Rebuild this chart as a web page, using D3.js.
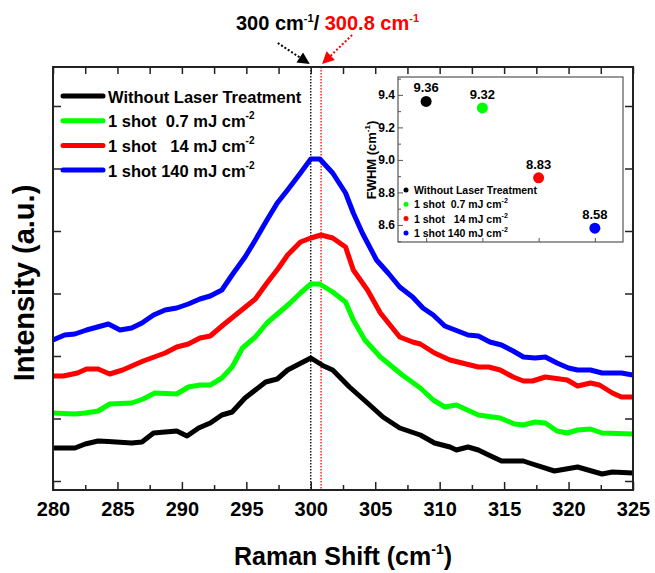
<!DOCTYPE html>
<html>
<head>
<meta charset="utf-8">
<script src="https://cdn.jsdelivr.net/npm/d3@7"></script>
<style>
body { margin: 0; background: #fff; }
text { font-family: "Liberation Sans", Arial, sans-serif; font-weight: bold; fill: #000; }
</style>
</head>
<body>
<div id="chart-area"></div>
<script>
// Raman spectra, [shift (cm-1), intensity (a.u.)]
var withoutLaser = [[280.0,1528],[281.7,1528],[282.5,1592],[283.5,1640],[284.3,1632],[286.1,1608],[286.9,1624],
    [287.8,1768],[288.7,1784],[289.6,1800],[290.4,1720],[291.3,1848],[292.2,1928],[293.1,2056],[293.9,2104],
    [294.9,2328],[296.5,2584],[297.4,2632],[298.2,2776],[300.0,2968],[301.0,2840],[301.7,2776],[303.0,2504],
    [304.4,2248],[305.6,2024],[306.9,1848],[308.5,1736],[309.6,1608],[310.8,1544],[311.3,1496],[312.2,1544],
    [313.0,1496],[313.8,1416],[314.8,1320],[316.5,1320],[317.2,1272],[318.9,1160],[320.7,1224],[322.6,1112],
    [323.4,1144],[325.0,1128]];
var shot07 = [[280.0,2088],[281.7,2072],[282.5,2088],[283.5,2120],[284.4,2232],[286.1,2248],[287.0,2312],
    [287.9,2408],[289.6,2392],[290.5,2504],[291.4,2536],[292.2,2536],[293.1,2648],[293.9,2824],[294.7,3128],
    [295.7,3304],[296.6,3528],[297.5,3688],[298.4,3848],[299.2,4008],[300.0,4152],[300.7,4152],[301.7,4024],
    [302.7,3864],[303.3,3576],[304.2,3256],[305.4,2984],[307.1,2696],[308.5,2488],[309.5,2296],[310.4,2184],
    [311.3,2216],[313.0,2056],[314.7,2008],[315.8,1912],[316.5,1896],[317.4,1944],[318.2,1928],[319.1,1800],
    [319.9,1768],[320.7,1816],[321.7,1832],[322.6,1768],[325.0,1752]];
var shot14 = [[280.0,2680],[280.8,2680],[281.9,2728],[282.6,2792],[283.5,2792],[284.4,2712],[285.4,2776],
    [287.0,2920],[288.7,3048],[289.6,3144],[290.5,3192],[291.4,3288],[292.2,3320],[293.2,3496],[295.7,3912],
    [296.6,4168],[297.5,4408],[298.2,4616],[299.2,4824],[300.0,4888],[300.8,4936],[301.7,4888],[302.7,4744],
    [303.3,4376],[304.4,4056],[305.4,3688],[306.9,3304],[307.9,3224],[308.5,3192],[309.6,3048],[310.8,2936],
    [313.0,2824],[313.8,2824],[314.7,2776],[315.7,2664],[316.5,2600],[317.2,2600],[318.2,2664],[319.9,2616],
    [320.7,2520],[321.7,2568],[322.4,2536],[323.4,2408],[324.1,2344],[325.0,2344]];
var shot140 = [[280.0,3256],[280.9,3336],[281.7,3352],[282.6,3416],[284.3,3512],[285.2,3416],[286.1,3448],
    [286.9,3528],[287.8,3656],[288.7,3736],[289.6,3768],[290.5,3832],[291.4,3912],[292.2,3960],[293.1,4056],
    [294.0,4328],[294.9,4584],[295.7,4856],[296.6,5176],[297.4,5448],[298.2,5656],[299.2,5928],[300.0,6152],
    [300.7,6152],[301.7,5928],[302.7,5608],[303.3,5288],[304.0,4968],[305.1,4536],[306.0,4328],[306.9,4104],
    [307.9,3944],[308.7,3768],[309.5,3656],[310.4,3480],[311.2,3416],[312.2,3336],[313.0,3320],[313.9,3224],
    [314.8,3176],[315.7,3080],[316.5,2984],[317.4,2968],[318.2,2984],[319.1,2888],[320.0,2808],[320.7,2776],
    [321.7,2776],[322.6,2728],[324.1,2728],[325.0,2696]];

var seriesNames = ["Without Laser Treatment", "1 shot  0.7 mJ cm", "1 shot   14 mJ cm", "1 shot 140 mJ cm"];
var seriesColors = ["#000000", "#00ff00", "#ff0000", "#0000ff"];
var xTicks = [280, 285, 290, 295, 300, 305, 310, 315, 320, 325];
var yTicks = [1000, 2000, 3000, 4000, 5000, 6000, 7000];
var peakShifts = [300, 300.8];

// inset: FWHM
var fwhmValues = [9.36, 9.32, 8.89, 8.58];
var fwhmLabels = ["9.36", "9.32", "8.83", "8.58"];
var fwhmTicks = [8.6, 8.8, 9.0, 9.2, 9.4];

var margin = { left: 53, right: 22, top: 67, bottom: 83 };
var width = 655 - margin.left - margin.right,
    height = 573 - margin.top - margin.bottom;

var svg = d3.select("#chart-area").append("svg")
    .attr("width", 655)
    .attr("height", 573);
var g = svg.append("g")
    .attr("transform", "translate(" + margin.left + "," + margin.top + ")");

var x = d3.scaleLinear().domain([280, 325]).range([0, width]);
var y = d3.scaleLinear().domain([856, 7624]).range([height, 0]);

var data = [withoutLaser, shot07, shot14, shot140];

g.append("clipPath").attr("id", "clip")
    .append("rect").attr("width", width).attr("height", height);

// peak position lines
g.append("line")
    .attr("x1", x(peakShifts[0])).attr("x2", x(peakShifts[0]))
    .attr("y1", 0).attr("y2", height)
    .attr("stroke", "#000").attr("stroke-width", 1.3).attr("stroke-dasharray", "1.5,1.5");
g.append("line")
    .attr("x1", x(peakShifts[1])).attr("x2", x(peakShifts[1]))
    .attr("y1", 0).attr("y2", height)
    .attr("stroke", "#ff0000").attr("stroke-width", 1.3).attr("stroke-dasharray", "1.5,1.5");

// spectra
var line = d3.line()
    .x(function(d){ return x(d[0]); })
    .y(function(d){ return y(d[1]); });

g.append("g").attr("clip-path", "url(#clip)")
    .selectAll("path").data(data).enter()
    .append("path")
        .attr("d", line)
        .attr("fill", "none")
        .attr("stroke", function(d, i){ return seriesColors[i]; })
        .attr("stroke-width", 5)
        .attr("stroke-linejoin", "round");

// axes (ticks inward)
var xAxis = g.append("g")
    .attr("transform", "translate(0," + height + ")")
    .call(d3.axisBottom(x).tickValues(xTicks).tickSize(-8).tickPadding(12));
xAxis.selectAll("text").attr("font-size", "20px").attr("font-family", null);
g.append("g")
    .attr("transform", "translate(0," + height + ")")
    .call(d3.axisBottom(x).tickValues(xTicks.slice(1).map(function(d){ return d - 2.5; }))
        .tickSize(-5).tickFormat(""));
g.append("g")
    .call(d3.axisTop(x).tickValues(d3.range(280, 325.1, 2.5)).tickSize(-7).tickFormat(""));
g.append("g")
    .call(d3.axisLeft(y).tickValues(yTicks).tickSize(-8).tickFormat(""));
g.append("g")
    .attr("transform", "translate(" + width + ",0)")
    .call(d3.axisRight(y).tickValues(yTicks).tickSize(-8).tickFormat(""));
g.selectAll(".domain").remove();
g.selectAll(".tick line").attr("stroke", "#222").attr("stroke-width", 1.5);

g.append("rect")
    .attr("width", width).attr("height", height)
    .attr("fill", "none").attr("stroke", "#222").attr("stroke-width", 2);

// axis titles
var xTitle = svg.append("text")
    .attr("x", margin.left + width / 2).attr("y", 565)
    .attr("text-anchor", "middle")
    .attr("font-size", "25px");
xTitle.append("tspan").text("Raman Shift (cm");
xTitle.append("tspan").attr("font-size", "14px").attr("dy", -11).text("-1");
xTitle.append("tspan").attr("dy", 11).text(")");

svg.append("text")
    .attr("transform", "translate(34,283) rotate(-90)")
    .attr("text-anchor", "middle")
    .attr("font-size", "29px")
    .text("Intensity (a.u.)");

// legend
var legend = g.append("g").attr("transform", "translate(10,29)");
seriesNames.forEach(function(name, i){
    var row = legend.append("g").attr("transform", "translate(0," + (i * 24.7) + ")");
    row.append("line")
        .attr("x1", 0).attr("x2", 40)
        .attr("stroke", seriesColors[i]).attr("stroke-width", 5)
        .attr("stroke-linecap", "round");
    var t = row.append("text")
        .attr("x", 45).attr("y", 6.5)
        .attr("font-size", "16.5px")
        .style("white-space", "pre");
    t.append("tspan").text(name);
    if (i > 0) {
        t.append("tspan").attr("font-size", "10px").attr("dy", -8).text("-2");
    }
});

// peak annotation
var note = svg.append("text")
    .attr("x", 236).attr("y", 30)
    .attr("font-size", "20px")
    .style("white-space", "pre");
note.append("tspan").text("300 cm");
note.append("tspan").attr("font-size", "11px").attr("dy", -8).text("-1");
note.append("tspan").attr("dy", 8).text("/ ");
note.append("tspan").attr("fill", "#ff0000").text("300.8 cm");
note.append("tspan").attr("fill", "#ff0000").attr("font-size", "11px").attr("dy", -8).text("-1");

function arrow(x1, y1, x2, y2, color) {
    var ang = Math.atan2(y2 - y1, x2 - x1);
    var len = 12, half = 6;
    var bx = x2 - len * Math.cos(ang), by = y2 - len * Math.sin(ang);
    svg.append("line")
        .attr("x1", x1).attr("y1", y1).attr("x2", bx).attr("y2", by)
        .attr("stroke", color).attr("stroke-width", 2).attr("stroke-dasharray", "2,2");
    var pts = [[x2, y2],
        [bx + half * Math.sin(ang), by - half * Math.cos(ang)],
        [bx - half * Math.sin(ang), by + half * Math.cos(ang)]];
    svg.append("polygon")
        .attr("points", pts.map(function(p){ return p.join(","); }).join(" "))
        .attr("fill", color);
}
arrow(margin.left + x(peakShifts[0]) - 33, 43, margin.left + x(peakShifts[0]) - 1, 64, "#000");
arrow(margin.left + x(peakShifts[1]) + 31, 35, margin.left + x(peakShifts[1]) + 1, 64, "#ff0000");

// inset FWHM
var ix = d3.scaleLinear().domain([0.5, 4.5]).range([398, 623]);
var iy = d3.scaleLinear().domain([8.495, 9.51]).range([242, 77]);
var inset = svg.append("g");

inset.append("g")
    .attr("transform", "translate(398,0)")
    .call(d3.axisLeft(iy).tickValues(fwhmTicks).tickSize(-5).tickPadding(3).tickFormat(d3.format(".1f")))
    .selectAll("text").attr("font-size", "12px").attr("font-family", null);
inset.append("g")
    .attr("transform", "translate(398,0)")
    .call(d3.axisLeft(iy).tickValues(d3.range(8.5, 9.51, 0.2)).tickSize(-3).tickFormat(""));
inset.append("g")
    .attr("transform", "translate(0,242)")
    .call(d3.axisBottom(ix).tickValues([1, 2, 3, 4]).tickSize(-4).tickFormat(""));
inset.selectAll(".domain").remove();
inset.selectAll(".tick line").attr("stroke", "#555").attr("stroke-width", 1);

inset.append("rect")
    .attr("x", 398).attr("y", 77).attr("width", 225).attr("height", 165)
    .attr("fill", "none").attr("stroke", "#555").attr("stroke-width", 1.2);

var iTitle = inset.append("text")
    .attr("transform", "translate(376,160) rotate(-90)")
    .attr("text-anchor", "middle")
    .attr("font-size", "13px");
iTitle.append("tspan").text("FWHM (cm");
iTitle.append("tspan").attr("font-size", "8px").attr("dy", -6).text("-1");
iTitle.append("tspan").attr("dy", 6).text(")");

inset.selectAll("circle.pt").data(fwhmValues).enter()
    .append("circle")
        .attr("class", "pt")
        .attr("cx", function(d, i){ return ix(i + 1); })
        .attr("cy", function(d){ return iy(d); })
        .attr("r", 5.5)
        .attr("fill", function(d, i){ return seriesColors[i]; });

inset.selectAll("text.val").data(fwhmValues).enter()
    .append("text")
        .attr("class", "val")
        .attr("x", function(d, i){ return ix(i + 1); })
        .attr("y", function(d){ return iy(d) - 9; })
        .attr("text-anchor", "middle")
        .attr("font-size", "13px")
        .text(function(d, i){ return fwhmLabels[i]; });

seriesNames.forEach(function(name, i){
    var ly = 190 + i * 14.3;
    inset.append("circle")
        .attr("cx", 406).attr("cy", ly).attr("r", 2.5)
        .attr("fill", seriesColors[i]);
    var t = inset.append("text")
        .attr("x", 414).attr("y", ly + 4)
        .attr("font-size", "10.5px")
        .style("white-space", "pre");
    t.append("tspan").text(name);
    if (i > 0) {
        t.append("tspan").attr("font-size", "7px").attr("dy", -5).text("-2");
    }
});
</script>
</body>
</html>
